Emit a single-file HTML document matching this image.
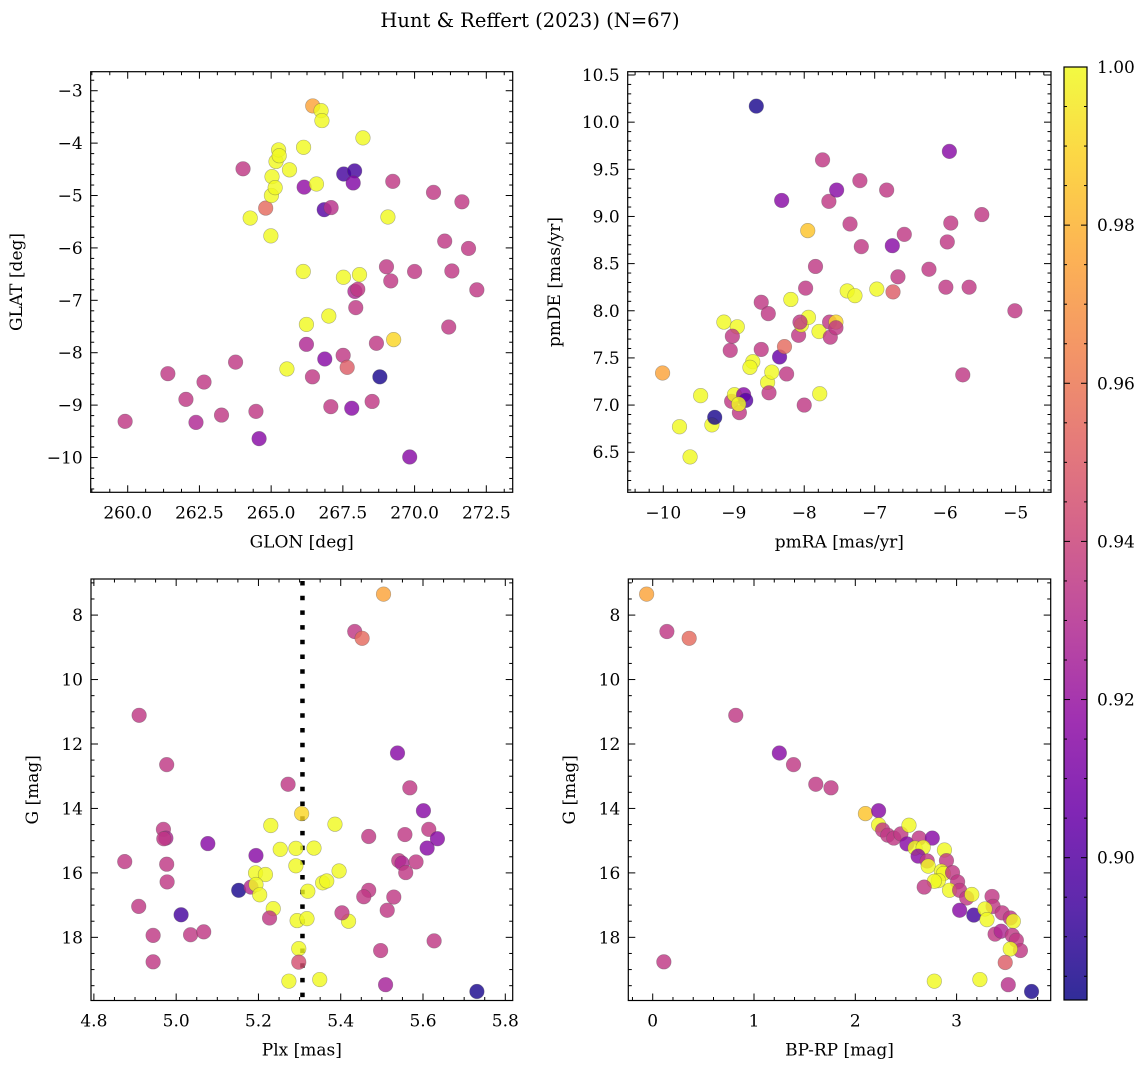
<!DOCTYPE html>
<html><head><meta charset="utf-8">
<style>
html,body{margin:0;padding:0;background:#fff;}
svg{display:block;font-family:"DejaVu Serif","Liberation Serif",serif;}
</style></head>
<body>
<svg id="fig" width="1148" height="1067" viewBox="0 0 1148 1067" xmlns="http://www.w3.org/2000/svg">
<defs>
<linearGradient id="plasmaGrad" x1="0" y1="1" x2="0" y2="0">
<stop offset="0" stop-color="#0d0887"/><stop offset="0.1" stop-color="#41049d"/><stop offset="0.2" stop-color="#6a00a8"/><stop offset="0.3" stop-color="#8f0da4"/><stop offset="0.4" stop-color="#b12a90"/><stop offset="0.5" stop-color="#cc4778"/><stop offset="0.6" stop-color="#e16462"/><stop offset="0.7" stop-color="#f2844b"/><stop offset="0.8" stop-color="#fca636"/><stop offset="0.9" stop-color="#fcce25"/><stop offset="1" stop-color="#f0f921"/>
</linearGradient>
</defs>
<text x="530" y="27" font-size="19.5" text-anchor="middle">Hunt &amp; Reffert (2023) (N=67)</text>
</svg>
<script>
// ---- data ----
const glon = [259.91,261.40,262.03,262.38,262.66,263.27,263.76,264.02,264.27,264.47,264.58,264.81,264.99,265.01,265.03,265.14,265.17,265.26,265.28,265.64,265.55,266.13,266.12,266.15,266.23,266.23,266.45,266.44,266.58,266.74,266.77,266.85,266.87,267.09,267.01,267.08,267.52,267.51,267.53,267.65,267.81,267.91,267.86,267.92,267.95,268.02,268.08,268.20,268.52,268.67,268.79,269.07,269.02,269.17,269.24,269.27,269.83,270.0,270.66,271.05,271.19,271.30,271.65,271.88,272.17];
const glat = [-9.31,-8.40,-8.89,-9.33,-8.56,-9.19,-8.18,-4.49,-5.43,-9.12,-9.64,-5.24,-5.77,-5.0,-4.64,-4.85,-4.35,-4.13,-4.24,-4.51,-8.31,-4.08,-6.45,-4.84,-7.46,-7.84,-3.29,-8.46,-4.78,-3.38,-3.57,-5.27,-8.12,-5.23,-7.30,-9.03,-6.56,-8.05,-4.59,-8.28,-9.06,-4.53,-4.76,-6.83,-7.14,-6.79,-6.51,-3.90,-8.93,-7.82,-8.46,-5.41,-6.36,-6.63,-4.73,-7.75,-9.99,-6.45,-4.94,-5.87,-7.51,-6.44,-5.12,-6.01,-6.80];
const probA = [.935,.935,.935,.928,.935,.935,.935,.935,1,.935,.915,.955,1,1,1,1,1,1,1,1,1,1,1,.918,1,.928,.975,.935,1,1,1,.90,.915,.932,1,.935,1,.935,.895,.95,.915,.895,.913,.928,.935,.935,1,1,.935,.935,.885,1,.935,.935,.935,.99,.915,.935,.935,.935,.935,.935,.935,.935,.935];

const pmra = [-10.01,-9.77,-9.62,-9.47,-9.31,-9.27,-9.14,-8.95,-9.02,-9.05,-9.03,-8.99,-8.86,-8.83,-8.92,-8.93,-8.73,-8.77,-8.68,-8.61,-8.61,-8.51,-8.52,-8.46,-8.50,-8.32,-8.35,-8.28,-8.25,-8.19,-8.08,-8.04,-8.0,-7.98,-7.95,-7.94,-8.06,-7.84,-7.79,-7.78,-7.74,-7.65,-7.64,-7.63,-7.54,-7.55,-7.55,-7.39,-7.28,-7.35,-7.21,-7.19,-6.97,-6.83,-6.75,-6.74,-6.67,-6.58,-6.23,-5.99,-5.97,-5.94,-5.92,-5.75,-5.66,-5.48,-5.01];
const pmde = [7.34,6.77,6.45,7.10,6.79,6.87,7.88,7.83,7.73,7.58,7.04,7.11,7.11,7.05,6.92,7.01,7.46,7.40,10.17,8.09,7.59,7.97,7.24,7.35,7.13,9.17,7.51,7.62,7.33,8.12,7.74,7.85,7.0,8.24,8.85,7.93,7.88,8.47,7.78,7.12,9.60,9.16,7.88,7.72,9.28,7.88,7.82,8.21,8.16,8.92,9.38,8.68,8.23,9.28,8.69,8.20,8.36,8.81,8.44,8.25,8.73,9.69,8.93,7.32,8.25,9.02,8.0];
const probB = [.975,1,1,1,1,.885,1,1,.935,.935,.935,1,.915,.90,.935,1,1,1,.885,.935,.935,.935,1,1,.935,.915,.905,.955,.935,1,.935,1,.935,.935,.985,1,.935,.935,1,1,.935,.935,.935,.935,.915,.99,.935,1,1,.935,.935,.935,1,.935,.915,.95,.935,.935,.935,.935,.935,.915,.935,.935,.935,.935,.935];

const plx = [5.504,5.434,5.452,4.910,4.977,5.272,5.538,5.568,5.601,5.614,5.635,5.610,5.556,5.468,5.541,5.549,5.583,5.558,4.969,4.975,4.970,4.875,4.977,4.978,5.077,5.194,4.909,5.012,4.944,4.944,5.035,5.067,5.152,5.182,5.193,5.217,5.194,5.203,5.230,5.253,5.291,5.291,5.305,5.335,5.320,5.386,5.396,5.356,5.366,5.236,5.227,5.294,5.318,5.419,5.403,5.298,5.298,5.274,5.349,5.468,5.456,5.529,5.513,5.497,5.627,5.509,5.731];
const gmagC = [7.35,8.51,8.72,11.11,12.64,13.25,12.28,13.36,14.07,14.65,14.94,15.23,14.81,14.87,15.62,15.70,15.66,15.99,14.65,14.92,14.94,15.65,15.73,16.28,15.09,15.46,17.04,17.30,17.94,18.76,17.92,17.83,16.54,16.44,16.0,16.05,16.36,16.68,14.53,15.27,15.24,15.78,14.16,15.23,16.57,14.49,15.94,16.31,16.25,17.11,17.40,17.48,17.42,17.50,17.24,18.35,18.77,19.36,19.31,16.54,16.74,16.75,17.16,18.41,18.11,19.47,19.68];
const probC = [.975,.935,.955,.935,.935,.935,.915,.935,.915,.935,.915,.915,.935,.935,.935,.928,.935,.935,.935,.928,.935,.935,.935,.935,.915,.915,.935,.895,.935,.935,.935,.935,.885,.93,1,1,1,1,1,1,1,1,.99,1,1,1,1,1,1,1,.935,1,1,1,.935,1,.945,1,1,.935,.935,.935,.935,.935,.935,.925,.885];
const plxMean = 5.307;

const bprp = [-0.06,0.14,0.36,0.11,0.82,1.25,1.39,1.61,1.76,2.10,2.23,2.23,2.27,2.32,2.38,2.45,2.53,2.51,2.63,2.76,2.59,2.67,2.62,2.71,2.88,2.90,2.72,2.85,2.87,2.96,2.82,2.78,2.68,3.01,2.93,3.03,3.10,3.15,3.03,3.17,3.35,3.36,3.28,3.30,3.45,3.53,3.56,3.38,3.44,3.55,3.59,3.63,3.53,3.48,2.78,3.23,3.51,3.74];
const gmagD = [7.35,8.51,8.72,18.76,11.11,12.28,12.64,13.25,13.36,14.16,14.07,14.51,14.67,14.83,14.92,14.79,14.52,15.10,14.92,14.92,15.23,15.21,15.48,15.63,15.29,15.62,15.79,15.95,16.02,15.99,16.24,16.26,16.44,16.28,16.54,16.54,16.78,16.67,17.16,17.31,16.73,17.04,17.12,17.45,17.24,17.40,17.50,17.90,17.81,17.94,18.09,18.41,18.36,18.78,19.36,19.31,19.47,19.68];
const probD = [.975,.935,.955,.935,.935,.915,.935,.935,.935,.985,.915,1,.935,.935,.935,.935,1,.915,.935,.915,1,1,.915,.935,1,.935,1,1,1,.935,1,1,.935,.935,1,.935,.935,1,.915,.895,.935,.935,1,1,.935,.935,1,.935,.928,.935,.935,.935,1,.95,1,1,.932,.885];

const cbTicks = [0.90,0.92,0.94,0.96,0.98,1.00];
const vmin = 0.882, vmax = 1.0;

// ---- rendering ----
const NS = "http://www.w3.org/2000/svg";
const svg = document.getElementById('fig');
const FS = 17;
function mk(tag, attrs, parent){ const e=document.createElementNS(NS,tag); for(const k in attrs) e.setAttribute(k,attrs[k]); (parent||svg).appendChild(e); return e; }
const stops=[[0,[13,8,135]],[.1,[65,4,157]],[.2,[106,0,168]],[.3,[143,13,164]],[.4,[177,42,144]],[.5,[204,71,120]],[.6,[225,100,98]],[.7,[242,132,75]],[.8,[252,166,54]],[.9,[252,206,37]],[1,[240,249,33]]];
function plasma(v){ let t=Math.max(0,Math.min(1,(v-vmin)/(vmax-vmin)));
  for(let i=1;i<stops.length;i++){ if(t<=stops[i][0]){ const a=stops[i-1],b=stops[i],f=(t-a[0])/(b[0]-a[0]);
    const c=a[1].map((x,j)=>Math.round(x+(b[1][j]-x)*f)); return `rgb(${c[0]},${c[1]},${c[2]})`; } } return 'rgb(240,249,33)'; }
const fmtMinus = s => String(s).replace('-','\u2212');

function panel(cfg){
  const g = mk('g',{});
  
  
  const {bx0,bx1,by0,by1,xmin,xmax,ymin,ymax} = cfg;
  const sx = v => bx0 + (v-xmin)/(xmax-xmin)*(bx1-bx0);
  const sy = v => by1 - (v-ymin)/(ymax-ymin)*(by1-by0);
  cfg.sx=sx; cfg.sy=sy;
  const ticks = mk('g',{stroke:'#000','stroke-width':1},g);
  
  
  const lo=Math.min(xmin,xmax), hi=Math.max(xmin,xmax);
  for(let k=Math.ceil(lo/cfg.xminor-1e-6);k*cfg.xminor<=hi+1e-9;k++){ const v=k*cfg.xminor, x=sx(v);
    const maj = Math.abs(v/cfg.xmajor-Math.round(v/cfg.xmajor))<1e-4; const L=maj?7:3.5;
    mk('line',{x1:x,x2:x,y1:by1,y2:by1-L},ticks); mk('line',{x1:x,x2:x,y1:by0,y2:by0+L},ticks); }
  const ylo=Math.min(ymin,ymax), yhi=Math.max(ymin,ymax);
  for(let k=Math.ceil(ylo/cfg.yminor-1e-6);k*cfg.yminor<=yhi+1e-9;k++){ const v=k*cfg.yminor, y=sy(v);
    const maj = Math.abs(v/cfg.ymajor-Math.round(v/cfg.ymajor))<1e-4; const L=maj?7:3.5;
    mk('line',{x1:bx0,x2:bx0+L,y1:y,y2:y},ticks); mk('line',{x1:bx1,x2:bx1-L,y1:y,y2:y},ticks); }
  cfg.xticks.forEach(v=>{ const t=mk('text',{x:sx(v),y:by1+26,'font-size':FS,'text-anchor':'middle'},g); t.textContent=fmtMinus(v.toFixed(cfg.xdec));
      });
  cfg.yticks.forEach(v=>{ const t=mk('text',{x:bx0-8,y:sy(v)+6,'font-size':FS,'text-anchor':'end'},g); t.textContent=fmtMinus(v.toFixed(cfg.ydec));
      });
  const xl=mk('text',{x:(bx0+bx1)/2,y:by1+55,'font-size':FS,'text-anchor':'middle'},g); xl.textContent=cfg.xlabel;
   
  const yx=cfg.ylabx, yc=(by0+by1)/2;
  const yl=mk('text',{x:yx,y:yc,'font-size':FS,'text-anchor':'middle',transform:`rotate(-90 ${yx} ${yc})`},g); yl.textContent=cfg.ylabel;
   
  const clip = mk('clipPath',{id:cfg.name+'-clip'},g); mk('rect',{x:bx0,y:by0,width:bx1-bx0,height:by1-by0},clip);
  const pts = mk('g',{'clip-path':`url(#${cfg.name}-clip)`},g);
  
  
  cfg.pts = pts;
  if(cfg.extra) cfg.extra(cfg);
  cfg.xs.forEach((xv,i)=>{ const c=mk('circle',{cx:sx(xv),cy:sy(cfg.ys[i]),r:7.3,fill:plasma(cfg.ps[i]),'fill-opacity':0.82,stroke:'#555','stroke-opacity':0.45,'stroke-width':0.6},pts);
      });
  const fr = mk('rect',{x:bx0,y:by0,width:bx1-bx0,height:by1-by0,fill:'none',stroke:'#000','stroke-width':1.2},g);
   
}

panel({name:'glon-glat-panel',bx0:90.7,bx1:512.7,by0:71.7,by1:492.3,xmin:258.71,xmax:273.42,ymin:-10.664,ymax:-2.637,
  xmajor:2.5,xminor:0.625,ymajor:1,yminor:0.2,xticks:[260,262.5,265,267.5,270,272.5],yticks:[-10,-9,-8,-7,-6,-5,-4,-3],xdec:1,ydec:0,
  xlabel:'GLON [deg]',ylabel:'GLAT [deg]',ylabx:22,xs:glon,ys:glat,ps:probA});
panel({name:'pm-panel',bx0:627.7,bx1:1051,by0:71.7,by1:492.3,xmin:-10.505,xmax:-4.498,ymin:6.075,ymax:10.535,
  xmajor:1,xminor:0.2,ymajor:0.5,yminor:0.1,xticks:[-10,-9,-8,-7,-6,-5],yticks:[6.5,7,7.5,8,8.5,9,9.5,10,10.5],xdec:0,ydec:1,
  xlabel:'pmRA [mas/yr]',ylabel:'pmDE [mas/yr]',ylabx:560,xs:pmra,ys:pmde,ps:probB});
panel({name:'plx-g-panel',bx0:91,bx1:512.7,by0:579,by1:1000.5,xmin:4.793,xmax:5.818,ymin:19.96,ymax:6.88,
  xmajor:0.2,xminor:0.05,ymajor:2,yminor:0.5,xticks:[4.8,5.0,5.2,5.4,5.6,5.8],yticks:[8,10,12,14,16,18],xdec:1,ydec:0,
  xlabel:'Plx [mas]',ylabel:'G [mag]',ylabx:38,xs:plx,ys:gmagC,ps:probC,
  extra:c=>{ const l=mk('line',{x1:c.sx(plxMean),x2:c.sx(plxMean),y1:c.by0,y2:c.by1,stroke:'#000','stroke-width':4.5,'stroke-dasharray':'4.5 10.2','stroke-dashoffset':-2},c.pts);
      }});
panel({name:'cmd-panel',bx0:628.3,bx1:1050.7,by0:579,by1:1000.5,xmin:-0.241,xmax:3.929,ymin:19.96,ymax:6.88,
  xmajor:1,xminor:0.2,ymajor:2,yminor:0.5,xticks:[0,1,2,3],yticks:[8,10,12,14,16,18],xdec:0,ydec:0,
  xlabel:'BP-RP [mag]',ylabel:'G [mag]',ylabx:575,xs:bprp,ys:gmagD,ps:probD});

// colorbar
(function(){
  const x0=1064,x1=1087,y0=67,y1=1000;
  const g=mk('g',{});
   
  mk('rect',{x:x0,y:y0,width:x1-x0,height:y1-y0,fill:'url(#plasmaGrad)','fill-opacity':0.85},g);
  const sy=v=> y1-(v-vmin)/(vmax-vmin)*(y1-y0);
  for(let v=0.885; v<=1.0001; v+=0.005){ const y=sy(v); const maj=Math.abs(v*50-Math.round(v*50))<1e-4; const L=maj?6:3;
    mk('line',{x1:x0,x2:x0+L,y1:y,y2:y,stroke:'#000'},g); mk('line',{x1:x1,x2:x1-L,y1:y,y2:y,stroke:'#000'},g); }
  cbTicks.forEach(v=>{ const t=mk('text',{x:x1+10,y:sy(v)+6,'font-size':FS},g); t.textContent=v.toFixed(2);
      });
  mk('rect',{x:x0,y:y0,width:x1-x0,height:y1-y0,fill:'none',stroke:'#000','stroke-width':1.2},g);
})();
</script>
</body></html>
